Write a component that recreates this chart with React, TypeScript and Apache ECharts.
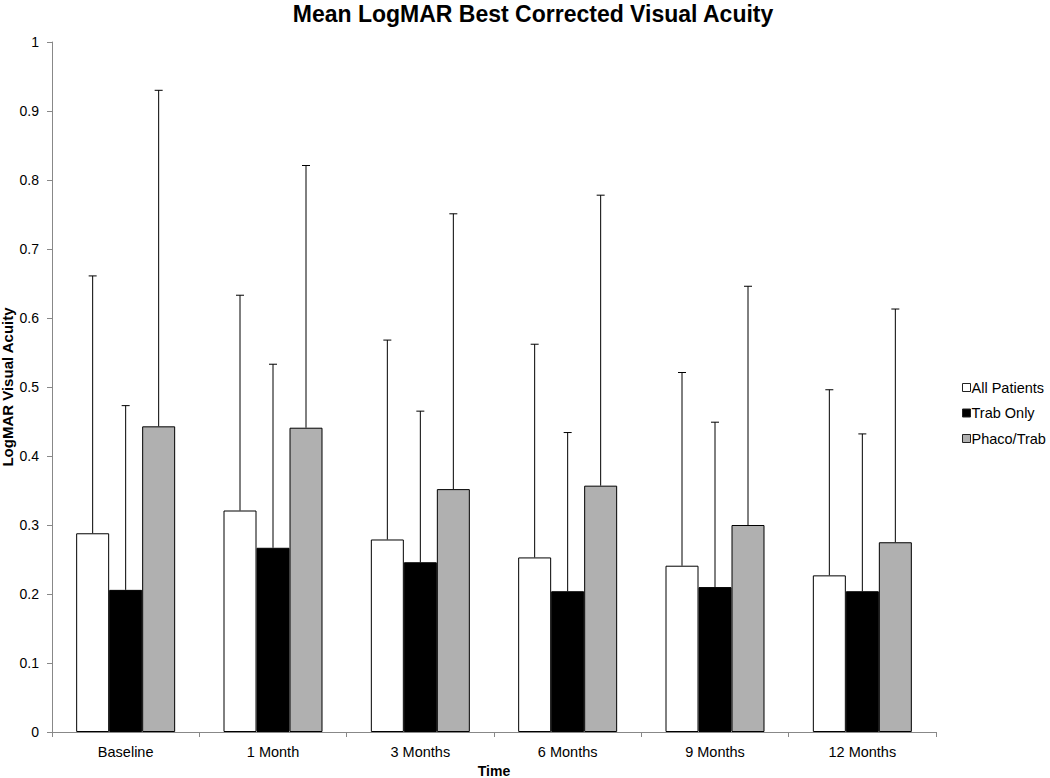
import React, { useEffect, useRef } from "react";
import * as echarts from "echarts";

const categories = ["Baseline", "1 Month", "3 Months", "6 Months", "9 Months", "12 Months"];
const seriesNames = ["All Patients", "Trab Only", "Phaco/Trab"];
const allPatients = [0.288, 0.321, 0.279, 0.253, 0.241, 0.227];
const trabOnly = [0.206, 0.267, 0.246, 0.204, 0.210, 0.204];
const phacoTrab = [0.443, 0.441, 0.352, 0.357, 0.300, 0.275];
const allPatientsUpper = [0.661, 0.633, 0.568, 0.562, 0.521, 0.496];
const trabOnlyUpper = [0.473, 0.533, 0.465, 0.434, 0.449, 0.432];
const phacoTrabUpper = [0.930, 0.821, 0.751, 0.778, 0.646, 0.613];

const FONT = "Liberation Sans, Arial, sans-serif";
const BAR_W = 33;

export default function App() {
  const ref = useRef<HTMLDivElement>(null);
  useEffect(() => {
    if (!ref.current) return;
    const chart = echarts.init(ref.current, undefined, { renderer: "svg" });
    const values = [allPatients, trabOnly, phacoTrab];
    const uppers = [allPatientsUpper, trabOnlyUpper, phacoTrabUpper];
    const colors = ["#ffffff", "#000000", "#b0b0b0"];

    const barSeries = values.map((v, i) => ({
      name: seriesNames[i],
      type: "bar",
      data: v,
      barWidth: BAR_W,
      barGap: "0%",
      itemStyle: { color: colors[i], borderColor: "#000", borderWidth: 1 },
      z: 2,
    }));

    const errSeries = values.map((v, i) => ({
      type: "custom",
      name: "err" + i,
      data: v.map((val, k) => [k, val, uppers[i][k]]),
      z: 1,
      silent: true,
      renderItem: (params: any, api: any) => {
        const k = api.value(0);
        const base = api.coord([k, api.value(1)]);
        const top = api.coord([k, api.value(2)]);
        const x = base[0] + (i - 1) * BAR_W;
        const half = 4;
        return {
          type: "group",
          children: [
            { type: "line", shape: { x1: x, y1: base[1], x2: x, y2: top[1] }, style: { stroke: "#000", lineWidth: 1 } },
            { type: "line", shape: { x1: x - half, y1: top[1], x2: x + half, y2: top[1] }, style: { stroke: "#000", lineWidth: 1 } },
          ],
        };
      },
    }));

    chart.setOption({
      animation: false,
      backgroundColor: "#ffffff",
      title: {
        text: "Mean LogMAR Best Corrected Visual Acuity",
        left: 528,
        top: -3,
        textAlign: "center",
        textStyle: { fontFamily: FONT, fontSize: 23, fontWeight: "bold", color: "#000" },
      },
      legend: {
        orient: "vertical",
        left: 957,
        top: 374,
        itemWidth: 8,
        itemHeight: 8,
        itemGap: 8.5,
        icon: "rect",
        data: seriesNames.map((n, i) => ({
          name: n,
          itemStyle: { color: colors[i], borderColor: "#222", borderWidth: 1 },
        })),
        textStyle: { fontFamily: FONT, fontSize: 14.5, lineHeight: 17, color: "#000", padding: [0, 0, 0, -4] },
      },
      grid: { left: 52, right: 114, top: 42, bottom: 46, containLabel: false, outerBoundsMode: "none" },
      xAxis: {
        type: "category",
        data: categories,
        name: "Time",
        nameLocation: "middle",
        nameGap: 32,
        nameMoveOverlap: false,
        nameTextStyle: { fontFamily: FONT, fontSize: 14, fontWeight: "bold", color: "#000" },
        axisLine: { lineStyle: { color: "#888", width: 1 } },
        axisTick: { show: true, length: 5, lineStyle: { color: "#888" } },
        axisLabel: { fontFamily: FONT, fontSize: 14.5, color: "#000", margin: 12 },
      },
      yAxis: {
        type: "value",
        min: 0,
        max: 1,
        interval: 0.1,
        name: "LogMAR Visual Acuity",
        nameLocation: "middle",
        nameGap: 37,
        nameRotate: 90,
        nameMoveOverlap: false,
        nameTextStyle: { fontFamily: FONT, fontSize: 15, fontWeight: "bold", color: "#000" },
        axisLine: { show: true, lineStyle: { color: "#888", width: 1 } },
        axisTick: { show: true, length: 5, lineStyle: { color: "#888" } },
        splitLine: { show: false },
        axisLabel: {
          fontFamily: FONT,
          fontSize: 14,
          color: "#000",
          margin: 13,
          formatter: (v: number) => String(Math.round(v * 10) / 10),
        },
      },
      series: [...barSeries, ...errSeries],
    });
    return () => chart.dispose();
  }, []);
  return <div ref={ref} style={{ width: 1050, height: 778, position: "absolute", left: 0, top: 0 }} />;
}
